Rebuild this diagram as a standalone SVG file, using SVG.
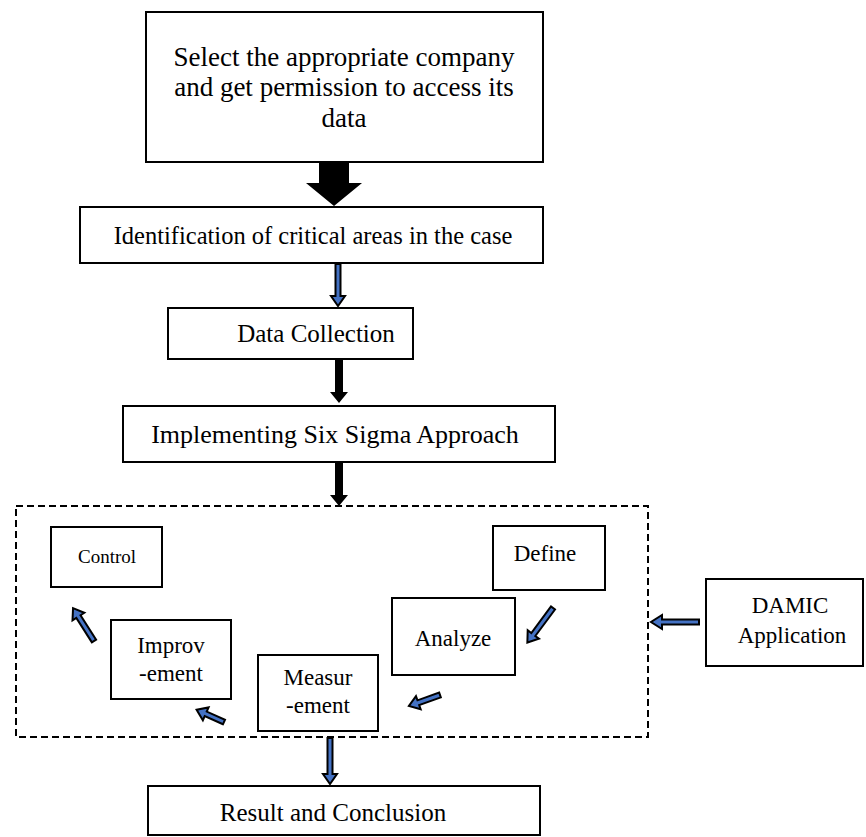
<svg xmlns="http://www.w3.org/2000/svg" width="866" height="837" viewBox="0 0 866 837">
<style>
.box{fill:#fff;stroke:#000;stroke-width:2}
.t{font-family:"Liberation Serif","Times New Roman",serif;font-size:25px;fill:#000;text-anchor:middle}
.s{font-family:"Liberation Serif","Times New Roman",serif;font-size:23px;fill:#000;text-anchor:middle}
.c{font-family:"Liberation Serif","Times New Roman",serif;font-size:19px;fill:#000;text-anchor:middle}
.blk{fill:#000;stroke:none}
.blue{fill:#4472C4;stroke:#000;stroke-width:2;stroke-linejoin:miter}
.dash{fill:none;stroke:#000;stroke-width:2;stroke-dasharray:7,4}
</style>
<rect width="866" height="837" fill="#fff"/>
<g id="n1"><rect class="box" x="146" y="12" width="397" height="150"/>
<text class="t" x="344" y="66" style="font-size:27px">Select the appropriate company</text>
<text class="t" x="344" y="96" style="font-size:27px">and get permission to access its</text>
<text class="t" x="344" y="127" style="font-size:27px">data</text></g>
<g id="n2"><rect class="box" x="80" y="207" width="463" height="56"/>
<text class="t" x="313" y="244" style="font-size:24.5px">Identification of critical areas in the case</text></g>
<g id="n3"><rect class="box" x="168" y="308" width="245" height="51"/>
<text class="t" x="316" y="342">Data Collection</text></g>
<g id="n4"><rect class="box" x="123" y="406" width="432" height="56"/>
<text class="t" x="335" y="443" style="font-size:26px">Implementing Six Sigma Approach</text></g>
<g id="group"><rect class="dash" x="16" y="506" width="632" height="231"/></g>
<g id="n5"><rect class="box" x="51" y="527" width="111" height="60"/>
<text class="c" x="107" y="563">Control</text></g>
<g id="n6"><rect class="box" x="493" y="526" width="112" height="64"/>
<text class="s" x="545" y="561">Define</text></g>
<g id="n7"><rect class="box" x="392" y="598" width="123" height="77"/>
<text class="s" x="453" y="646">Analyze</text></g>
<g id="n8"><rect class="box" x="258" y="655" width="120" height="76"/>
<text class="s" x="318" y="685">Measur</text>
<text class="s" x="318" y="713">-ement</text></g>
<g id="n9"><rect class="box" x="111" y="620" width="120" height="79"/>
<text class="s" x="171" y="653">Improv</text>
<text class="s" x="171" y="681">-ement</text></g>
<g id="n10"><rect class="box" x="706" y="579" width="157" height="87"/>
<text class="s" x="790" y="613">DAMIC</text>
<text class="s" x="792" y="643">Application</text></g>
<g id="n11"><rect class="box" x="148" y="786" width="392" height="49"/>
<text class="t" x="333" y="821">Result and Conclusion</text></g>
<g id="connectors">
<polygon class="blk" points="319,162 349,162 349,183 362,183 334,206 306,183 319,183"/>
<polygon class="blk" points="335,359 343,359 343,392 348,392 339,403 330,392 335,392"/>
<polygon class="blk" points="335,462 343,462 343,495 348,495 339,506 330,495 335,495"/>
<polygon class="blue" transform="translate(338,264) rotate(90)" points="0,-2.5 32,-2.5 32,-7 42,0 32,7 32,2.5 0,2.5"/>
<polygon class="blue" transform="translate(330,738) rotate(90)" points="0,-2.5 36,-2.5 36,-7 46,0 36,7 36,2.5 0,2.5"/>
<polygon class="blue" transform="translate(699,622) rotate(180)" points="0,-2.5 37,-2.5 37,-7 48,0 37,7 37,2.5 0,2.5"/>
<polygon class="blue" transform="translate(553,608) rotate(126.6)" points="0,-2.5 33,-2.5 33,-7 43,0 33,7 33,2.5 0,2.5"/>
<polygon class="blue" transform="translate(440,695) rotate(160.5)" points="0,-2.5 23,-2.5 23,-7 33,0 23,7 23,2.5 0,2.5"/>
<polygon class="blue" transform="translate(224,722) rotate(204)" points="0,-2.5 20,-2.5 20,-7 30,0 20,7 20,2.5 0,2.5"/>
<polygon class="blue" transform="translate(94,641) rotate(237.5)" points="0,-2.5 29,-2.5 29,-7 39,0 29,7 29,2.5 0,2.5"/>
</g>
</svg>
